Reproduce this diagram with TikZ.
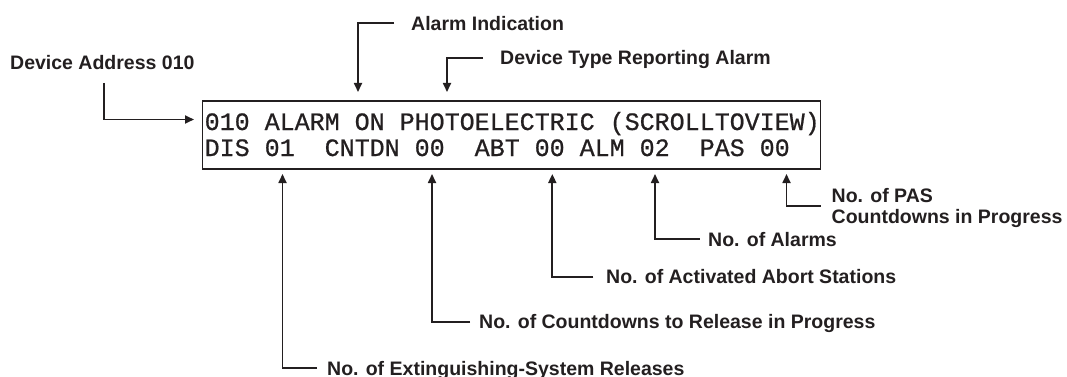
\documentclass[tikz,border=0pt]{standalone}
\usepackage{fontspec}
\setmainfont{Liberation Sans}
\newfontfamily\dispfont[FakeBold=0.7]{Liberation Mono}
\usetikzlibrary{arrows.meta}
\definecolor{ink}{HTML}{231F20}
\tikzset{
  lbl/.style={anchor=base west, inner sep=0pt, text=ink, font=\fontsize{19.5}{21.7}\selectfont\bfseries},
  disptext/.style={anchor=base west, inner sep=0pt, text=ink, font=\dispfont\fontsize{25}{27}\selectfont},
  conn/.style={draw=ink, line width=1.7pt, -{Triangle[length=9pt,width=8pt]}},
  dispbox/.style={draw=ink, line width=1.8pt, inner sep=0pt, anchor=north west, minimum width=618pt, minimum height=68.3pt}
}
\begin{document}
\begin{tikzpicture}[x=1pt,y=-1pt]
\useasboundingbox (0,0) rectangle (1067,377);
% display
\node[dispbox] (disp) at (201.5,100) {};
\node[disptext] (line1) at (204.5,130) {010 ALARM ON PHOTOELECTRIC (SCROLLTOVIEW)};
\node[disptext] (line2) at (204.5,156) {DIS 01~~CNTDN 00~~ABT 00 ALM 02~~PAS 00};
% labels
\node[lbl] (lAddr) at (10,69.5) {Device Address 010};
\node[lbl] (lAlarm) at (411,30.3) {Alarm Indication};
\node[lbl] (lType) at (500,64.7) {Device Type Reporting Alarm};
\node[lbl] (lPas1) at (831.5,202) {No. of PAS};
\node[lbl] (lPas2) at (831.5,223.7) {Countdowns in Progress};
\node[lbl] (lAlm) at (708,246.3) {No. of Alarms};
\node[lbl] (lAbt) at (606,283.7) {No. of Activated Abort Stations};
\node[lbl] (lCnt) at (479,328.7) {No. of Countdowns to Release in Progress};
\node[lbl] (lDis) at (327,375) {No. of Extinguishing-System Releases};
% connector ends
\coordinate (sAddr) at (104,83);
\coordinate (tAddr) at (194,119.5);
\coordinate (sAlarm) at (394,22.7);
\coordinate (tAlarm) at (358,92);
\coordinate (sType) at (483,57.7);
\coordinate (tType) at (447,92);
\coordinate (sDis) at (317,368.3);
\coordinate (tDis) at (282.5,174);
\coordinate (sCnt) at (470,321.7);
\coordinate (tCnt) at (432,174);
\coordinate (sAbt) at (593.4,276.7);
\coordinate (tAbt) at (552.3,174);
\coordinate (sAlm) at (699.5,239.3);
\coordinate (tAlm) at (655,174);
\coordinate (sPas) at (820.5,206);
\coordinate (tPas) at (786.5,174);
% connectors
\draw[conn] (sAddr) |- (tAddr);
\draw[conn] (sAlarm) -| (tAlarm);
\draw[conn] (sType) -| (tType);
\draw[conn] (sDis) -| (tDis);
\draw[conn] (sCnt) -| (tCnt);
\draw[conn] (sAbt) -| (tAbt);
\draw[conn] (sAlm) -| (tAlm);
\draw[conn] (sPas) -| (tPas);
\end{tikzpicture}
\end{document}
